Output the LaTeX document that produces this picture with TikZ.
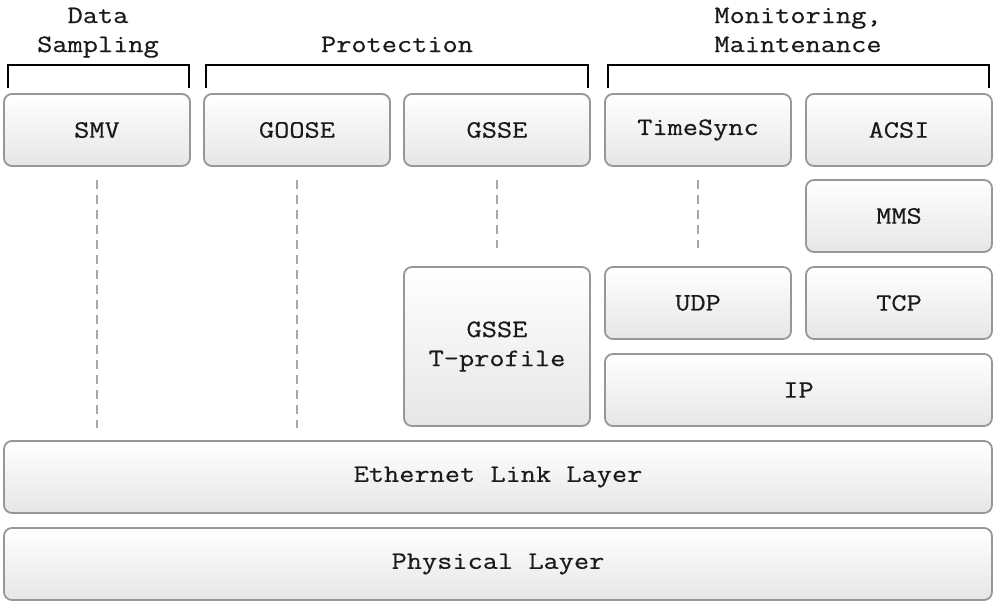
\documentclass[tikz,border=0pt]{standalone}
\usepackage{fontspec}
\setmainfont{Latin Modern Mono}[FakeStretch=1.18,FakeBold=0.5]
\definecolor{boxborder}{HTML}{979797}
\definecolor{boxbottom}{HTML}{E6E6E6}
\definecolor{dashcol}{HTML}{A8A8A8}
\definecolor{textcol}{HTML}{1A1A1A}
\begin{document}
\begin{tikzpicture}[x=1pt,y=-1pt,
  box/.style={draw=boxborder, line width=1.8pt, rounded corners=8pt,
    top color=white, bottom color=boxbottom, anchor=north west,
    minimum width=186pt, minimum height=72pt, inner sep=0pt, outer sep=0pt,
    text=textcol, align=center, font=\fontsize{25}{29}\selectfont},
  vline/.style={draw=dashcol, line width=2pt, dash pattern=on 9pt off 6pt},
  brace/.style={draw=black, line width=2pt},
  grp/.style={text=textcol, align=center, font=\fontsize{25}{29}\selectfont, inner sep=0pt}]
\useasboundingbox (0,0) rectangle (993,603);
% top row
\node[box] (smv)   at (4,94)   {SMV};
\node[box] (goose) at (204,94) {GOOSE};
\node[box] (gsse)  at (404,94) {GSSE};
\node[box] (ts)    at (605,94) {TimeSync};
\node[box] (acsi)  at (806,94) {ACSI};
\node[box] (mms)   at (806,180) {MMS};
\node[box] (udp)   at (605,267) {UDP};
\node[box] (tcp)   at (806,267) {TCP};
\node[box, minimum height=159pt] (tprof) at (404,267) {GSSE\\T-profile};
\node[box, minimum width=387pt] (ip) at (605,354) {IP};
\node[box, minimum width=988pt] (eth) at (4,441) {Ethernet Link Layer};
\node[box, minimum width=988pt] (phy) at (4,528) {Physical Layer};
% dashed links
\draw[vline, shorten <=14pt, shorten >=13pt] (smv.south) -- (smv.south |- eth.north);
\draw[vline, shorten <=14pt, shorten >=13pt] (goose.south) -- (goose.south |- eth.north);
\draw[vline, shorten <=14pt, shorten >=19pt] (gsse.south) -- (tprof.north);
\draw[vline, shorten <=14pt, shorten >=19pt] (ts.south) -- (udp.north);
% brackets
\draw[brace] (8,88) -- (8,65) -- (189,65) -- (189,88);
\draw[brace] (206,88) -- (206,65) -- (588,65) -- (588,88);
\draw[brace] (608,88) -- (608,65) -- (989,65) -- (989,88);
% group labels
\node[grp, anchor=base] (lds) at (98,52) {Data\\Sampling};
\node[grp, anchor=base] (lpr) at (397,52) {Protection};
\node[grp, anchor=base] (lmm) at (798,52) {Monitoring,\\Maintenance};
\end{tikzpicture}
\end{document}
